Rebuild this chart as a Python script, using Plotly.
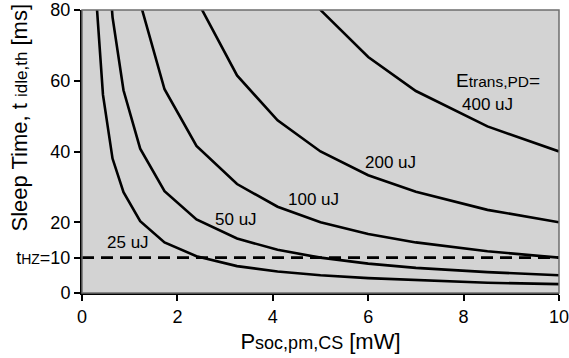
import plotly.graph_objects as go

# Power grid (mW) read from polyline vertices
P = [0.30, 0.44, 0.64, 0.87, 1.22, 1.73, 2.40, 3.25, 4.10, 5.0, 6.0, 7.0, 8.5, 10.0]
# Sleep time (ms) read for each transition energy
t_25 = [83, 56, 38, 28.5, 20.3, 14.3, 10.4, 7.6, 6.1, 5.0, 4.2, 3.6, 2.9, 2.5]
t_50 = [166, 113, 78, 57.3, 40.8, 28.8, 20.8, 15.4, 12.2, 10.0, 8.3, 7.1, 5.9, 5.0]
t_100 = [330, 225, 156, 115, 82, 57.6, 41.6, 30.8, 24.4, 20.0, 16.7, 14.3, 11.8, 10.0]
t_200 = [660, 450, 312, 230, 164, 115, 83, 61.5, 48.8, 40.0, 33.3, 28.6, 23.5, 20.0]
t_400 = [1320, 900, 625, 460, 328, 231, 166, 123, 97.5, 80.0, 66.7, 57.1, 47.1, 40.0]
series = [("25 uJ", t_25), ("50 uJ", t_50), ("100 uJ", t_100), ("200 uJ", t_200), ("400 uJ", t_400)]

thz = 10
x_ticks = [0, 2, 4, 6, 8, 10]
y_ticks = [0, 10, 20, 40, 60, 80]
y_ticktext = ["0", "t<span style='font-size:14px'>HZ</span>=10", "20", "40", "60", "80"]

# label positions (data coords, left-anchored)
labels = [
    ("25 uJ", 0.48, 14.3),
    ("50 uJ", 2.74, 20.7),
    ("100 uJ", 4.27, 26.5),
    ("200 uJ", 5.90, 37.0),
    ("400 uJ", 7.93, 53.2),
]

fig = go.Figure()
for name, t in series:
    fig.add_trace(go.Scatter(x=P, y=t, mode="lines", name=name,
                             line=dict(color="black", width=2.6), showlegend=False))

fig.add_trace(go.Scatter(x=[0, 10], y=[thz, thz], mode="lines", showlegend=False,
                         line=dict(color="black", width=2.6, dash="12px,7px")))

for txt, x, y in labels:
    fig.add_annotation(x=x, y=y, text=txt, showarrow=False, xanchor="left", yanchor="middle",
                       font=dict(size=17, color="black"))
fig.add_annotation(x=7.79, y=60.2, showarrow=False, xanchor="left", yanchor="middle",
                   text="E<span style='font-size:15.5px'>trans,PD</span>=",
                   font=dict(size=19, color="black"))

# y-axis title (placed as rotated annotation to match the reference position)
fig.add_annotation(xref="paper", yref="paper", x=-0.13, y=0.62, showarrow=False,
                   textangle=-90, xanchor="center", yanchor="middle",
                   text="Sleep Time, t <span style='font-size:17px'>idle,th</span> [ms]",
                   font=dict(size=22, color="black"))

fig.add_shape(type="rect", xref="paper", yref="paper", x0=0, y0=0, x1=1, y1=1,
              line=dict(color="#6e6e6e", width=1.5), layer="above")

fig.update_layout(
    width=569, height=358,
    margin=dict(l=82, r=10, t=10, b=65),
    paper_bgcolor="white", plot_bgcolor="#d3d3d3",
    font=dict(family="Liberation Sans, Arial, sans-serif", color="black"),
)
fig.update_xaxes(range=[0, 10], tickvals=x_ticks, showgrid=False, zeroline=False,
                 automargin=False, ticklabeloverflow="allow",
                 showline=True, linecolor="black", linewidth=2, ticks="outside",
                 ticklen=6, tickcolor="black", tickwidth=1.5, tickfont=dict(size=18),
                 title=dict(text="P<span style='font-size:18px'>soc,pm,CS</span> [mW]",
                            font=dict(size=22), standoff=8))
fig.update_yaxes(range=[0, 80], tickvals=y_ticks, ticktext=y_ticktext, showgrid=False,
                 automargin=False, ticklabeloverflow="allow",
                 zeroline=False, showline=True, linecolor="black", linewidth=2,
                 ticks="outside", ticklen=6, tickcolor="black", tickwidth=1.5,
                 tickfont=dict(size=18))

fig.write_html("out.html", config={"displayModeBar": False},
               post_script="document.body.style.margin='0';document.body.style.overflow='hidden';")
